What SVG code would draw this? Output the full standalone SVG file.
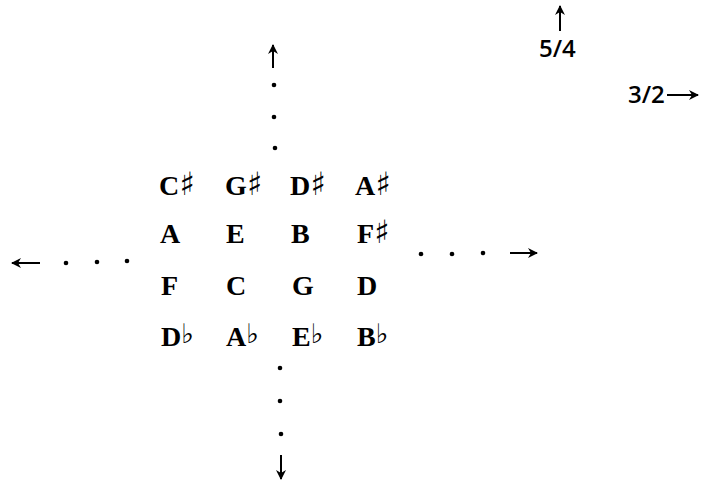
<svg xmlns="http://www.w3.org/2000/svg" width="703" height="482" viewBox="0 0 703 482">
<style>
.note{font-family:"Liberation Serif","DejaVu Serif",serif;font-size:28px;font-weight:bold;fill:#000;}
.acc{font-family:"DejaVu Sans",sans-serif;font-size:32px;font-weight:bold;}
.flat{font-family:"DejaVu Sans",sans-serif;font-size:27px;font-weight:bold;}
.lbl{font-family:"Open Sans","Liberation Sans",sans-serif;font-size:24px;font-weight:600;fill:#000;}
.ax{stroke:#000;stroke-width:2;fill:none;}
.dot{fill:#000;}
</style>
<defs>
<marker id="ah" viewBox="0 0 10 10" refX="9" refY="5" markerWidth="10" markerHeight="10" markerUnits="userSpaceOnUse" orient="auto">
<path d="M0,0 L10,5 L0,10 L3,5 Z" fill="#000"/>
</marker>
</defs>
<rect width="703" height="482" fill="#fff"/>
<g id="connectors">
<path class="ax" d="M273,68 L273,45" marker-end="url(#ah)"/>
<circle class="dot" cx="274" cy="85" r="2.3"/>
<circle class="dot" cx="274" cy="117" r="2.3"/>
<circle class="dot" cx="275" cy="148" r="2.3"/>
<circle class="dot" cx="280" cy="368" r="2.3"/>
<circle class="dot" cx="280" cy="401" r="2.3"/>
<circle class="dot" cx="281" cy="434" r="2.3"/>
<path class="ax" d="M281,455 L281,479" marker-end="url(#ah)"/>
<path class="ax" d="M40,263 L12,263" marker-end="url(#ah)"/>
<circle class="dot" cx="66" cy="263" r="2.3"/>
<circle class="dot" cx="97" cy="262" r="2.3"/>
<circle class="dot" cx="127" cy="261" r="2.3"/>
<circle class="dot" cx="421" cy="254" r="2.3"/>
<circle class="dot" cx="452" cy="254" r="2.3"/>
<circle class="dot" cx="483" cy="253" r="2.3"/>
<path class="ax" d="M510,253 L537,253" marker-end="url(#ah)"/>
<path class="ax" d="M560,31 L560,6" marker-end="url(#ah)"/>
<path class="ax" d="M667,95 L698,95" marker-end="url(#ah)"/>
</g>
<g id="n-Cs"><text class="note" x="159" y="195">C<tspan class="acc">♯</tspan></text></g>
<g id="n-Gs"><text class="note" x="225" y="195">G<tspan class="acc">♯</tspan></text></g>
<g id="n-Ds"><text class="note" x="290" y="195">D<tspan class="acc">♯</tspan></text></g>
<g id="n-As"><text class="note" x="355" y="195">A<tspan class="acc">♯</tspan></text></g>
<g id="n-A"><text class="note" x="160" y="243">A</text></g>
<g id="n-E"><text class="note" x="226" y="243">E</text></g>
<g id="n-B"><text class="note" x="291" y="243">B</text></g>
<g id="n-Fs"><text class="note" x="357" y="243">F<tspan class="acc">♯</tspan></text></g>
<g id="n-F"><text class="note" x="161" y="295">F</text></g>
<g id="n-C"><text class="note" x="226" y="295">C</text></g>
<g id="n-G"><text class="note" x="292" y="295">G</text></g>
<g id="n-D"><text class="note" x="357" y="295">D</text></g>
<g id="n-Db"><text class="note" x="161" y="346">D<tspan class="flat" dy="-3">♭</tspan></text></g>
<g id="n-Ab"><text class="note" x="226" y="346">A<tspan class="flat" dy="-3">♭</tspan></text></g>
<g id="n-Eb"><text class="note" x="292" y="346">E<tspan class="flat" dy="-3">♭</tspan></text></g>
<g id="n-Bb"><text class="note" x="357" y="346">B<tspan class="flat" dy="-3">♭</tspan></text></g>
<g id="legend">
<text class="lbl" x="539" y="57">5/4</text>
<text class="lbl" x="628" y="103">3/2</text>
</g>
</svg>
